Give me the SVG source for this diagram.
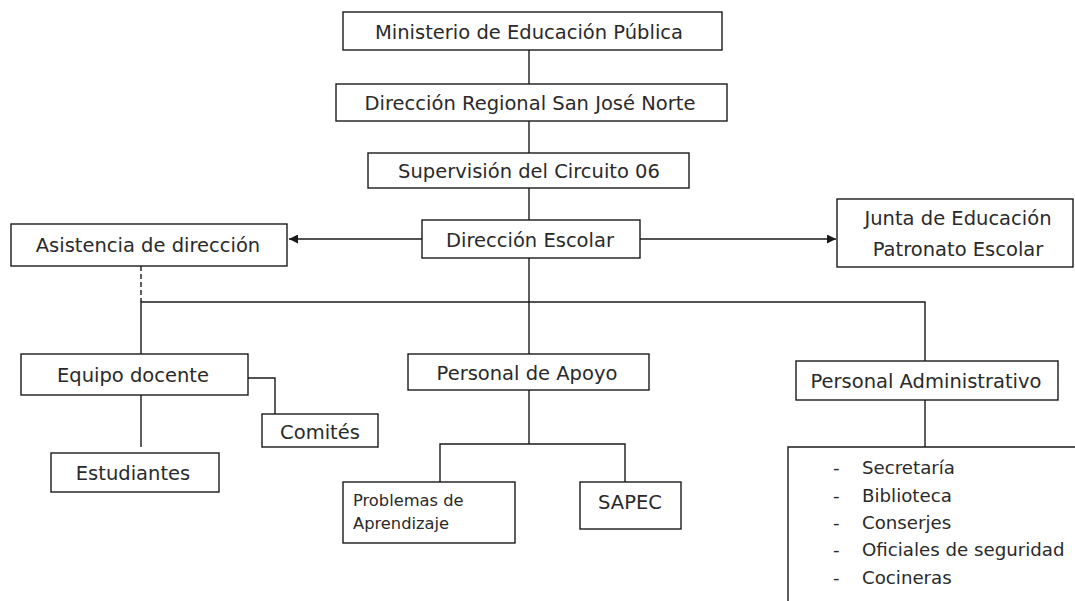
<svg xmlns="http://www.w3.org/2000/svg" width="1075" height="601" viewBox="0 0 1075 601">
<style>
.box{fill:#fff;stroke:#1a1a1a;stroke-width:1.4}
.ln{fill:none;stroke:#1a1a1a;stroke-width:1.4}
.dash{stroke-dasharray:5 3}
text{font-family:"DejaVu Sans","Liberation Sans",sans-serif;fill:#2a2a2a;dominant-baseline:central}
.t{font-size:19.5px;text-anchor:middle}
.s{font-size:16.3px}
.l{font-size:18.2px}
</style>
<defs>
<marker id="arr" viewBox="0 0 10 10" refX="10" refY="5" markerWidth="9" markerHeight="9" markerUnits="userSpaceOnUse" orient="auto">
<path d="M0,0 L10,5 L0,10 z" fill="#1a1a1a"/>
</marker>
</defs>
<rect width="1075" height="601" fill="#fff"/>
<g id="connectors">
<path class="ln" d="M529,50 V84"/>
<path class="ln" d="M529,121 V153"/>
<path class="ln" d="M529,188 V220"/>
<path class="ln" d="M422,239 H289" marker-end="url(#arr)"/>
<path class="ln" d="M640,239 H836" marker-end="url(#arr)"/>
<path class="ln dash" d="M141,266 V302"/>
<path class="ln" d="M529,258 V354"/>
<path class="ln" d="M141,354 V302 H925 V361"/>
<path class="ln" d="M141,395 V447"/>
<path class="ln" d="M248,378 H275 V414"/>
<path class="ln" d="M529,390 V444 M440,482 V444 H625 V482"/>
<path class="ln" d="M925,400 V447"/>
</g>
<g id="ministerio"><rect class="box" x="343" y="12" width="379" height="38"/><text class="t" x="529" y="32">Ministerio de Educación Pública</text></g>
<g id="regional"><rect class="box" x="336" y="84" width="391" height="37"/><text class="t" x="530" y="103">Dirección Regional San José Norte</text></g>
<g id="supervision"><rect class="box" x="368" y="153" width="321" height="35"/><text class="t" x="529" y="171">Supervisión del Circuito 06</text></g>
<g id="direccion"><rect class="box" x="422" y="220" width="218" height="38"/><text class="t" x="530" y="240">Dirección Escolar</text></g>
<g id="asistencia"><rect class="box" x="11" y="224" width="276" height="42"/><text class="t" x="148" y="245">Asistencia de dirección</text></g>
<g id="junta"><rect class="box" x="837" y="199" width="236" height="68"/><text class="t" x="958" y="218">Junta de Educación</text><text class="t" x="958" y="249">Patronato Escolar</text></g>
<g id="equipo"><rect class="box" x="21" y="354" width="227" height="41"/><text class="t" x="133" y="375">Equipo docente</text></g>
<g id="comites"><rect class="box" x="262" y="414" width="116" height="33"/><text class="t" x="320" y="432">Comités</text></g>
<g id="estudiantes"><rect class="box" x="51" y="453" width="168" height="39"/><text class="t" x="133" y="473">Estudiantes</text></g>
<g id="apoyo"><rect class="box" x="408" y="354" width="241" height="36"/><text class="t" x="527" y="373">Personal de Apoyo</text></g>
<g id="problemas"><rect class="box" x="343" y="482" width="172" height="61"/><text class="s" x="353" y="500">Problemas de</text><text class="s" x="353" y="523">Aprendizaje</text></g>
<g id="sapec"><rect class="box" x="580" y="482" width="101" height="47"/><text class="t" x="630" y="502">SAPEC</text></g>
<g id="administrativo"><rect class="box" x="796" y="361" width="262" height="39"/><text class="t" x="926" y="381">Personal Administrativo</text></g>
<g id="lista">
<path class="ln" d="M788,601 V447 H1076"/>
<text class="l" x="833" y="467">-</text><text class="l" x="862" y="467">Secretaría</text>
<text class="l" x="833" y="495">-</text><text class="l" x="862" y="495">Biblioteca</text>
<text class="l" x="833" y="522">-</text><text class="l" x="862" y="522">Conserjes</text>
<text class="l" x="833" y="549">-</text><text class="l" x="862" y="549">Oficiales de seguridad</text>
<text class="l" x="833" y="577">-</text><text class="l" x="862" y="577">Cocineras</text>
</g>
</svg>
